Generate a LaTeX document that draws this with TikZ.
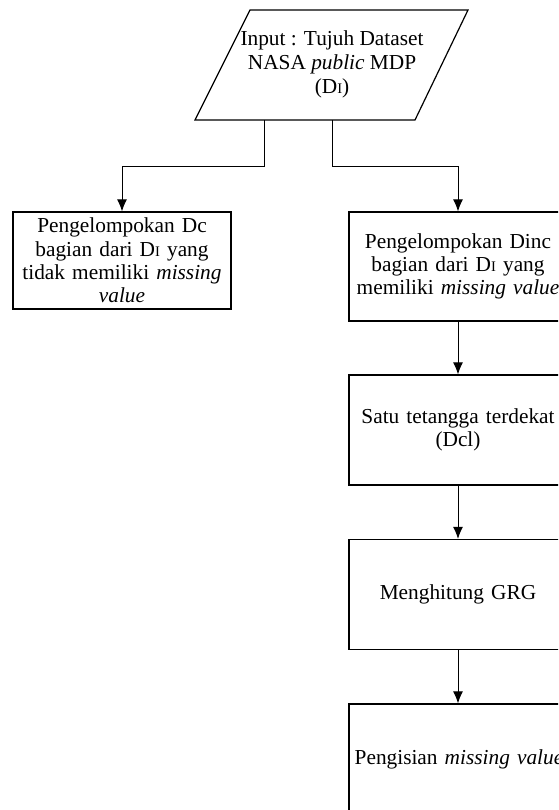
\documentclass[tikz,border=0pt]{standalone}
\usepackage{fontspec}
\setmainfont{Liberation Serif}
\usepackage{tikz}
\usetikzlibrary{calc, arrows.meta}
\tikzset{>={Latex[length=9pt,width=7.5pt]}}
\newcommand*\DI{D{\fontsize{11}{11}\selectfont I}}

\begin{document}
\begin{tikzpicture}[x=0.75pt, y=-0.75pt,
  flowbox/.style={draw, line width=0.9pt, minimum width=163.5pt, text width=155pt, align=center, inner sep=2pt, font=\fontsize{16}{17.5}\selectfont},
  flowline/.style={->, line width=0.75pt}]
\useasboundingbox (0, 0) rectangle (558, 810);
\clip (0, 0) rectangle (558, 810);

% Draw input parallelogram
\draw[line width=0.9pt] (250, 10) -- (468, 10) -- (415, 120) -- (195, 120) -- cycle;
\node[align=center, font=\fontsize{16}{18}\selectfont] (input) at (332, 64)
  {Input : Tujuh Dataset\\ NASA \textit{public} MDP\\ (\DI)};
\coordinate (outleft) at (264, 120);
\coordinate (outright) at (332, 120);

% Draw process boxes
\node[flowbox, minimum height=72.75pt] (dc) at (122, 260.5)
  {Pengelompokan Dc\\ bagian dari \DI{} yang\\ tidak memiliki \textit{missing}\\ \textit{value}};
\node[flowbox, minimum height=81.75pt] (dinc) at (458, 266.5)
  {Pengelompokan Dinc\\ bagian dari \DI{} yang\\ \mbox{memiliki \textit{missing value}}};
\node[flowbox, minimum height=82.5pt] (dcl) at (458, 430)
  {Satu tetangga terdekat\\ (Dcl)};
\node[flowbox, minimum height=82.5pt] (grg) at (458, 594.5) {Menghitung GRG};
\node[flowbox, minimum height=82.5pt] (isi) at (458, 759) {\mbox{Pengisian \textit{missing value}}};

% Draw connectors
\draw[flowline] (outleft) -- ++(0, 46) -| (dc.north);
\draw[flowline] (outright) -- ++(0, 46) -| (dinc.north);
\draw[flowline] (dinc) -- (dcl);
\draw[flowline] (dcl) -- (grg);
\draw[flowline] (grg) -- (isi);
\end{tikzpicture}
\end{document}
